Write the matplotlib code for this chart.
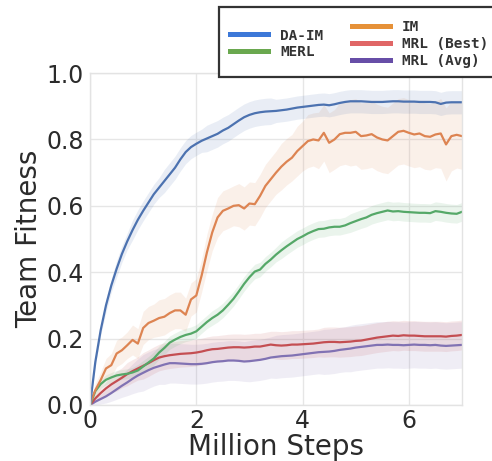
import numpy as np
import matplotlib
matplotlib.use("Agg")
import matplotlib.pyplot as plt
from matplotlib.patches import Rectangle
from matplotlib.lines import Line2D

# x axis: million steps, sampled every 0.1
steps = np.round(np.arange(71) * 0.1, 1)

da_im = [0.00, 0.13, 0.225, 0.30, 0.36, 0.41, 0.455, 0.493, 0.527, 0.558,
         0.585, 0.61, 0.635, 0.655, 0.675, 0.695, 0.715, 0.74, 0.762, 0.777,
         0.787, 0.796, 0.803, 0.81, 0.817, 0.827, 0.835, 0.846, 0.857, 0.867,
         0.874, 0.879, 0.882, 0.884, 0.885, 0.886, 0.888, 0.89, 0.893, 0.896,
         0.898, 0.90, 0.902, 0.904, 0.905, 0.903, 0.906, 0.91, 0.913, 0.915,
         0.915, 0.915, 0.914, 0.913, 0.913, 0.913, 0.914, 0.915, 0.915, 0.914,
         0.914, 0.914, 0.913, 0.913, 0.913, 0.912, 0.907, 0.911, 0.912, 0.912,
         0.912]
da_im_sd = [0.005, 0.01, 0.015, 0.02, 0.02, 0.025, 0.025, 0.025, 0.03, 0.03,
            0.03, 0.03, 0.03, 0.03, 0.035, 0.035, 0.035, 0.035, 0.035, 0.035,
            0.035, 0.035, 0.04, 0.04, 0.04, 0.04, 0.04, 0.04, 0.04, 0.04,
            0.04, 0.04, 0.04, 0.04, 0.04, 0.035, 0.035, 0.035, 0.035, 0.035,
            0.035, 0.035, 0.035, 0.035, 0.035, 0.035, 0.035, 0.035, 0.035, 0.035,
            0.035, 0.035, 0.035, 0.035, 0.035, 0.035, 0.035, 0.035, 0.035, 0.035,
            0.035, 0.035, 0.035, 0.035, 0.035, 0.035, 0.035, 0.035, 0.035, 0.035,
            0.035]

im = [0.005, 0.045, 0.075, 0.11, 0.12, 0.155, 0.165, 0.18, 0.196, 0.185,
      0.232, 0.247, 0.254, 0.262, 0.266, 0.277, 0.285, 0.285, 0.272, 0.318,
      0.33, 0.39, 0.46, 0.52, 0.565, 0.585, 0.592, 0.60, 0.602, 0.592,
      0.607, 0.605, 0.63, 0.66, 0.68, 0.70, 0.718, 0.733, 0.745, 0.765,
      0.78, 0.795, 0.80, 0.797, 0.82, 0.79, 0.80, 0.816, 0.82, 0.82,
      0.823, 0.81, 0.812, 0.816, 0.806, 0.80, 0.797, 0.81, 0.823, 0.826,
      0.82, 0.815, 0.818, 0.81, 0.808, 0.815, 0.818, 0.785, 0.81, 0.814,
      0.81]
im_sd = [0.005, 0.02, 0.025, 0.03, 0.035, 0.04, 0.04, 0.04, 0.045, 0.045,
         0.05, 0.05, 0.05, 0.055, 0.055, 0.055, 0.055, 0.055, 0.05, 0.05,
         0.05, 0.05, 0.055, 0.055, 0.06, 0.06, 0.06, 0.06, 0.065, 0.065,
         0.065, 0.065, 0.065, 0.065, 0.065, 0.065, 0.07, 0.07, 0.07, 0.075,
         0.075, 0.08, 0.08, 0.085, 0.085, 0.09, 0.09, 0.095, 0.095, 0.10,
         0.10, 0.10, 0.10, 0.10, 0.10, 0.10, 0.10, 0.10, 0.10, 0.10,
         0.10, 0.10, 0.10, 0.10, 0.10, 0.10, 0.105, 0.11, 0.105, 0.10,
         0.10]

merl = [0.0, 0.042, 0.063, 0.076, 0.083, 0.089, 0.092, 0.094, 0.098, 0.104,
        0.116, 0.128, 0.14, 0.158, 0.172, 0.188, 0.197, 0.205, 0.211, 0.215,
        0.222, 0.236, 0.25, 0.262, 0.272, 0.285, 0.302, 0.32, 0.342, 0.365,
        0.385, 0.402, 0.408, 0.425, 0.438, 0.453, 0.466, 0.478, 0.489, 0.50,
        0.508, 0.517, 0.524, 0.530, 0.531, 0.535, 0.537, 0.537, 0.541, 0.548,
        0.554, 0.56, 0.565, 0.573, 0.578, 0.582, 0.586, 0.583, 0.584, 0.582,
        0.581, 0.58, 0.579, 0.579, 0.578, 0.584, 0.582, 0.579, 0.577, 0.576,
        0.582]
merl_sd = [0.005, 0.01, 0.012, 0.015, 0.015, 0.015, 0.015, 0.015, 0.015, 0.018,
           0.018, 0.018, 0.02, 0.02, 0.02, 0.02, 0.02, 0.02, 0.02, 0.02,
           0.02, 0.02, 0.02, 0.022, 0.022, 0.022, 0.022, 0.022, 0.022, 0.022,
           0.022, 0.022, 0.022, 0.022, 0.022, 0.022, 0.025, 0.025, 0.025, 0.025,
           0.025, 0.025, 0.025, 0.025, 0.025, 0.025, 0.025, 0.025, 0.025, 0.028,
           0.028, 0.028, 0.028, 0.028, 0.028, 0.028, 0.028, 0.028, 0.028, 0.028,
           0.028, 0.028, 0.028, 0.028, 0.028, 0.028, 0.028, 0.028, 0.028, 0.028,
           0.028]

mrl_best = [0.0, 0.02, 0.036, 0.05, 0.062, 0.072, 0.082, 0.093, 0.102, 0.11,
            0.118, 0.126, 0.135, 0.143, 0.147, 0.15, 0.152, 0.154, 0.155, 0.156,
            0.158, 0.161, 0.165, 0.168, 0.169, 0.171, 0.173, 0.174, 0.174, 0.173,
            0.174, 0.176, 0.176, 0.179, 0.182, 0.18, 0.179, 0.18, 0.182, 0.182,
            0.183, 0.184, 0.185, 0.187, 0.189, 0.19, 0.19, 0.189, 0.19, 0.191,
            0.193, 0.194, 0.197, 0.2, 0.203, 0.205, 0.207, 0.209, 0.208, 0.21,
            0.209, 0.209, 0.208, 0.207, 0.207, 0.207, 0.207, 0.206, 0.208, 0.209,
            0.211]
mrl_best_sd = [0.005, 0.01, 0.015, 0.02, 0.025, 0.03, 0.03, 0.035, 0.035, 0.035,
               0.04, 0.04, 0.04, 0.04, 0.04, 0.04, 0.04, 0.04, 0.04, 0.04,
               0.04, 0.04, 0.04, 0.04, 0.04, 0.04, 0.04, 0.04, 0.04, 0.04,
               0.04, 0.04, 0.04, 0.04, 0.04, 0.042, 0.042, 0.042, 0.042, 0.042,
               0.042, 0.042, 0.042, 0.042, 0.045, 0.045, 0.045, 0.045, 0.045, 0.045,
               0.045, 0.045, 0.045, 0.045, 0.045, 0.045, 0.045, 0.045, 0.045, 0.045,
               0.045, 0.045, 0.045, 0.045, 0.045, 0.045, 0.045, 0.045, 0.045, 0.045,
               0.045]

mrl_avg = [0.0, 0.01, 0.018, 0.026, 0.036, 0.047, 0.058, 0.068, 0.079, 0.089,
           0.097, 0.105, 0.112, 0.117, 0.122, 0.126, 0.126, 0.125, 0.124, 0.123,
           0.123, 0.124, 0.126, 0.129, 0.131, 0.132, 0.134, 0.134, 0.133, 0.131,
           0.132, 0.134, 0.136, 0.139, 0.143, 0.145, 0.147, 0.148, 0.149, 0.151,
           0.153, 0.155, 0.157, 0.159, 0.16, 0.161, 0.163, 0.166, 0.168, 0.17,
           0.173, 0.175, 0.177, 0.179, 0.181, 0.181, 0.182, 0.181, 0.181, 0.18,
           0.181, 0.182, 0.181, 0.181, 0.18, 0.181, 0.179, 0.178, 0.179, 0.18,
           0.181]
mrl_avg_sd = [0.005, 0.01, 0.015, 0.02, 0.025, 0.03, 0.035, 0.04, 0.045, 0.05,
              0.055, 0.055, 0.055, 0.055, 0.06, 0.06, 0.06, 0.06, 0.06, 0.06,
              0.06, 0.06, 0.06, 0.06, 0.06, 0.06, 0.06, 0.06, 0.06, 0.06,
              0.062, 0.062, 0.062, 0.062, 0.062, 0.065, 0.065, 0.065, 0.065, 0.065,
              0.065, 0.065, 0.065, 0.065, 0.068, 0.068, 0.068, 0.068, 0.068, 0.07,
              0.07, 0.07, 0.07, 0.07, 0.07, 0.07, 0.07, 0.07, 0.07, 0.07,
              0.07, 0.07, 0.07, 0.07, 0.07, 0.07, 0.07, 0.07, 0.07, 0.07,
              0.07]

names = ["DA-IM", "IM", "MERL", "MRL (Best)", "MRL (Avg)"]
means = [da_im, im, merl, mrl_best, mrl_avg]
sds = [da_im_sd, im_sd, merl_sd, mrl_best_sd, mrl_avg_sd]
# plot lines use seaborn "deep", the legend swatches a brighter set
line_colors = ["#4c72b0", "#dd8452", "#55a868", "#c44e52", "#8172b3"]
swatch_colors = ["#3c78d8", "#e69138", "#6aa84f", "#e06666", "#674ea7"]

plt.rcParams["font.family"] = "DejaVu Sans"
fig = plt.figure(figsize=(4.92, 4.61), dpi=100)
ax = fig.add_axes([0.183, 0.1215, 0.756, 0.72])

for m, s, c in zip(means[::-1], sds[::-1], line_colors[::-1]):
    m = np.array(m)
    s = np.array(s)
    ax.fill_between(steps, m - s, m + s, color=c, alpha=0.12, lw=0)
for m, c in zip(means[::-1], line_colors[::-1]):
    ax.plot(steps, m, color=c, lw=1.6)

ax.set_xlim(0, 7)
ax.set_ylim(0, 1)
ax.set_xticks([0, 2, 4, 6])
ax.set_yticks([0.0, 0.2, 0.4, 0.6, 0.8, 1.0])
ax.set_yticklabels(["0.0", "0.2", "0.4", "0.6", "0.8", "1.0"])
ax.grid(True, color="#e6e6e6", lw=1)
ax.set_axisbelow(True)
for sp in ax.spines.values():
    sp.set_color("#e3e3e3")
    sp.set_linewidth(1)
ax.tick_params(axis="both", length=0, labelsize=17, colors="#2b2b2b")
ax.tick_params(axis="y", pad=4.5)
ax.tick_params(axis="x", pad=3)
ax.set_xlabel("Million Steps", fontsize=20, color="#2b2b2b", labelpad=0)
ax.set_ylabel("Team Fitness", fontsize=20, color="#2b2b2b", labelpad=2)

# legend frame spanning both columns, running off the right edge
frame = Rectangle((0.445, 0.833), 0.6, 0.152, transform=fig.transFigure,
                  facecolor="white", edgecolor="#333333", lw=1.6,
                  clip_on=False, zorder=3)
fig.patches.append(frame)

handles = [Line2D([], [], color=c, lw=3.6) for c in swatch_colors]
leg_font = {"family": "DejaVu Sans Mono", "weight": "bold", "size": 10.4}
common = dict(loc="center left", frameon=False, borderpad=0, borderaxespad=0,
              handlelength=2.64, handletextpad=0.83, labelspacing=0.2,
              prop=leg_font, labelcolor="#333333")
leg_left = fig.legend([handles[0], handles[2]], [names[0], names[2]],
                      bbox_to_anchor=(0.4675, 0.9046), **common)
leg_right = fig.legend([handles[1], handles[3], handles[4]],
                       [names[1], names[3], names[4]],
                       bbox_to_anchor=(0.7154, 0.9046), **common)
leg_left.set_zorder(6)
leg_right.set_zorder(6)

fig.savefig("out.png", dpi=100)
